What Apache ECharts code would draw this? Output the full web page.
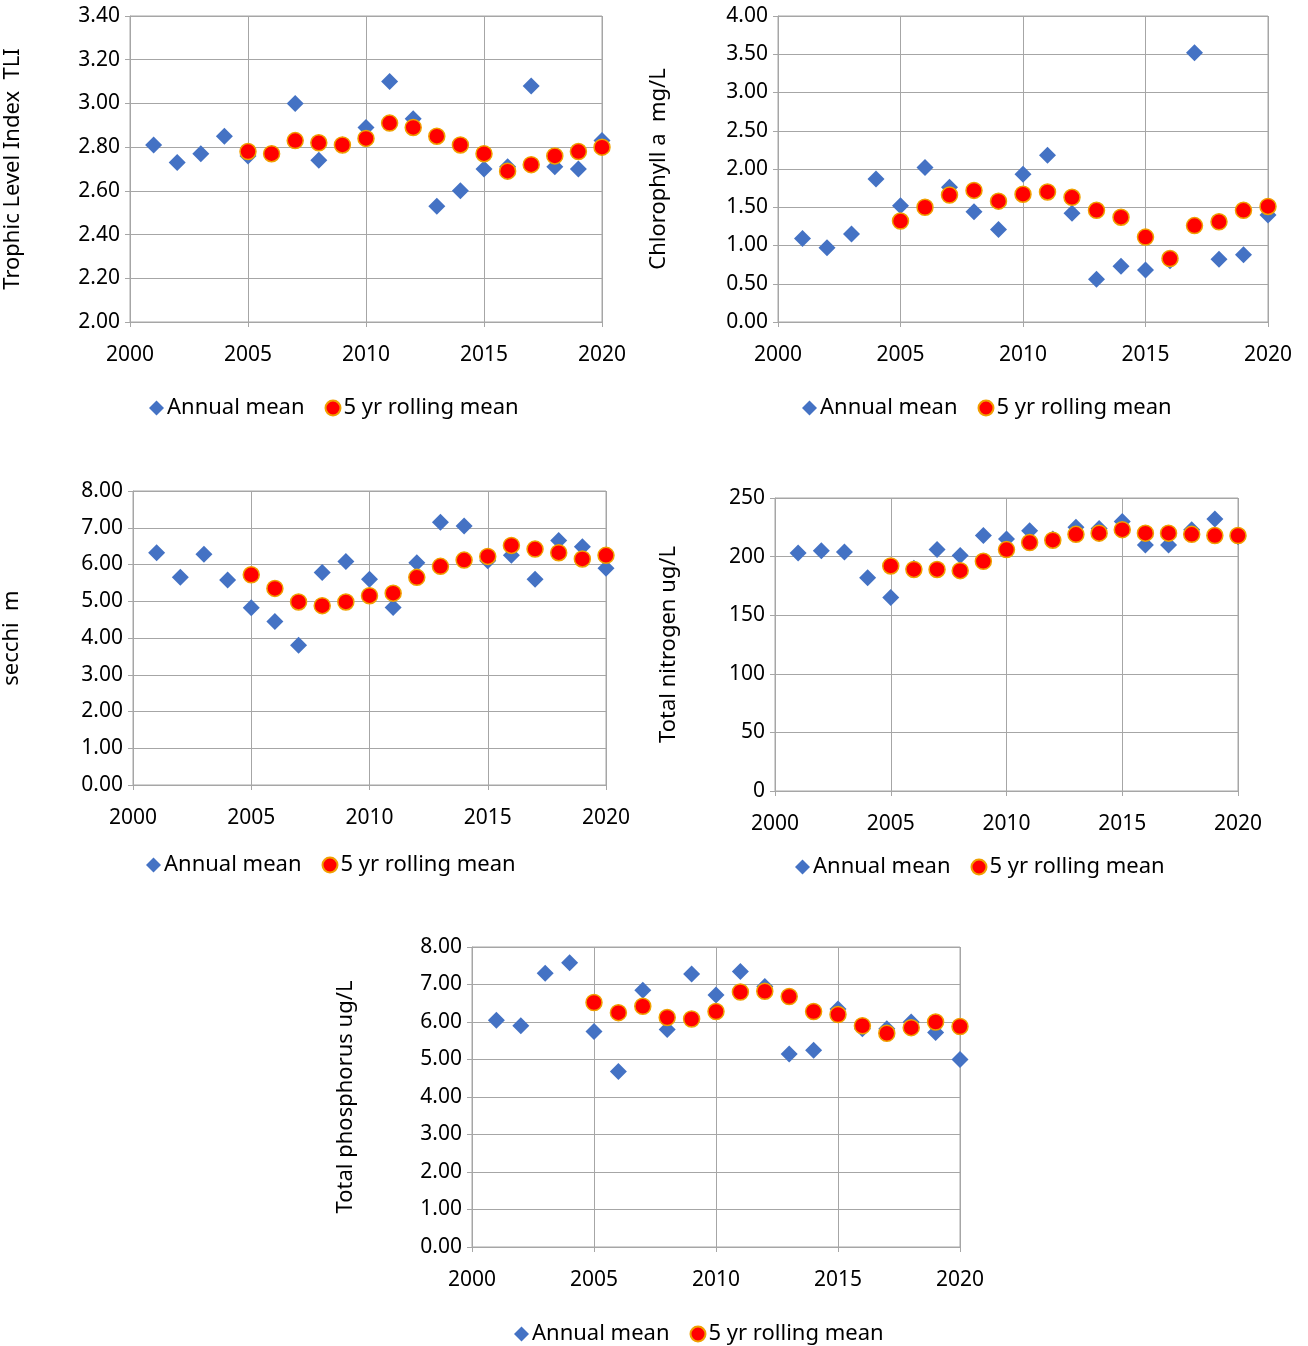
<!DOCTYPE html>
<html><head><meta charset="utf-8">
<script src="https://cdn.jsdelivr.net/npm/echarts@6/dist/echarts.min.js"></script>
<style>html,body{margin:0;padding:0;background:#fff}#c{width:1308px;height:1346px}</style>
</head><body><div id="c"></div>
<script>
const years = [2001,2002,2003,2004,2005,2006,2007,2008,2009,2010,2011,2012,2013,2014,2015,2016,2017,2018,2019,2020];
const rollYears = years.slice(4);
const tliAnnual = [2.81,2.73,2.77,2.85,2.76,2.77,3.00,2.74,2.81,2.89,3.10,2.93,2.53,2.60,2.70,2.71,3.08,2.71,2.70,2.83];
const tliRolling = [2.78,2.77,2.83,2.82,2.81,2.84,2.91,2.89,2.85,2.81,2.77,2.69,2.72,2.76,2.78,2.80];
const chlAnnual = [1.09,0.97,1.15,1.87,1.52,2.02,1.76,1.44,1.21,1.93,2.18,1.42,0.56,0.73,0.68,0.80,3.52,0.82,0.88,1.40];
const chlRolling = [1.32,1.50,1.66,1.72,1.58,1.67,1.70,1.63,1.46,1.37,1.11,0.83,1.26,1.31,1.46,1.51];
const secAnnual = [6.32,5.65,6.28,5.58,4.82,4.45,3.80,5.78,6.08,5.60,4.83,6.05,7.15,7.05,6.10,6.25,5.60,6.65,6.48,5.90];
const secRolling = [5.72,5.35,4.98,4.88,4.98,5.15,5.22,5.65,5.95,6.12,6.22,6.52,6.42,6.32,6.15,6.25];
const tnAnnual = [203,205,204,182,165,190,206,201,218,215,222,215,225,224,230,210,210,223,232,217];
const tnRolling = [192,189,189,188,196,206,212,214,219,220,223,220,220,219,218,218];
const tpAnnual = [6.05,5.90,7.30,7.58,5.75,4.68,6.85,5.80,7.28,6.72,7.35,6.95,5.15,5.25,6.35,5.82,5.82,6.00,5.72,5.00];
const tpRolling = [6.52,6.25,6.42,6.12,6.08,6.28,6.80,6.82,6.68,6.28,6.20,5.90,5.70,5.85,6.00,5.88];

const panels = [
 {g:{left:130,top:16,width:472,height:306}, min:2, max:3.4, iv:0.2, dec:2, name:'Trophic Level Index  TLI', gap:106, a:tliAnnual, r:tliRolling, leg:{left:144,top:392}},
 {g:{left:778,top:16,width:490,height:306}, min:0, max:4, iv:0.5, dec:2, name:'Chlorophyll a  mg/L', gap:108, a:chlAnnual, r:chlRolling, leg:{left:797,top:392}},
 {g:{left:132,top:491,width:474,height:294}, min:0, max:8, iv:1, dec:2, name:'secchi  m', gap:110, a:secAnnual, r:secRolling, leg:{left:141,top:849}},
 {g:{left:775,top:498,width:463,height:293}, min:0, max:250, iv:50, dec:0, name:'Total nitrogen ug/L', gap:95, a:tnAnnual, r:tnRolling, leg:{left:790,top:851}},
 {g:{left:472,top:947,width:488,height:300}, min:0, max:8, iv:1, dec:2, name:'Total phosphorus ug/L', gap:115, a:tpAnnual, r:tpRolling, leg:{left:509,top:1318}}
];
const font = 'Noto Sans';
const grid=[],xAxis=[],yAxis=[],series=[],legend=[];
panels.forEach((p,i)=>{
  grid.push(Object.assign({containLabel:false,show:true,borderColor:'#a6a6a6',borderWidth:1},p.g));
  xAxis.push({gridIndex:i,type:'value',min:2000,max:2020,interval:5,
    axisLine:{lineStyle:{color:'#a6a6a6'}},axisTick:{show:true,length:5,lineStyle:{color:'#a6a6a6'}},
    splitLine:{show:true,lineStyle:{color:'#a6a6a6'}},
    axisLabel:{color:'#000',fontSize:21,fontFamily:font,margin:23,formatter:v=>String(v)}});
  yAxis.push({gridIndex:i,type:'value',min:p.min,max:p.max,interval:p.iv,
    name:p.name,nameLocation:'middle',nameGap:p.gap,nameRotate:90,
    nameTextStyle:{color:'#000',fontSize:22,fontFamily:font},
    axisLine:{show:true,lineStyle:{color:'#a6a6a6'}},axisTick:{show:true,length:5,lineStyle:{color:'#a6a6a6'}},
    splitLine:{show:true,lineStyle:{color:'#a6a6a6'}},
    axisLabel:{color:'#000',fontSize:21,fontFamily:font,margin:10,formatter:v=>v.toFixed(p.dec)}});
  series.push({name:'Annual mean',type:'scatter',xAxisIndex:i,yAxisIndex:i,symbol:'diamond',symbolSize:17,
    itemStyle:{color:'#4472C4',opacity:1},data:years.map((y,k)=>[y,p.a[k]])});
  series.push({name:'5 yr rolling mean',type:'scatter',xAxisIndex:i,yAxisIndex:i,symbol:'circle',symbolSize:16,
    itemStyle:{color:'#FF0000',borderColor:'#F0A000',borderWidth:1.5,opacity:1},data:rollYears.map((y,k)=>[y,p.r[k]])});
  legend.push(Object.assign({orient:'horizontal',itemWidth:15,itemHeight:15,itemGap:20,
    textStyle:{color:'#000',fontSize:22,fontFamily:font,padding:[0,0,0,-2]},data:['Annual mean','5 yr rolling mean']},p.leg));
});
const chart = echarts.init(document.getElementById('c'));
chart.setOption({animation:false,backgroundColor:'#fff',grid,xAxis,yAxis,series,legend});
</script></body></html>
